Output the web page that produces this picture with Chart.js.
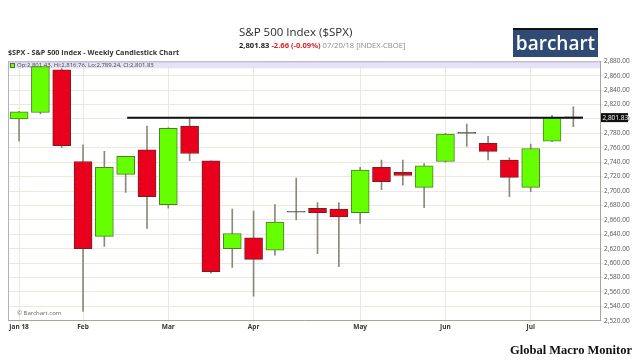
<!DOCTYPE html>
<html>
<head>
<meta charset="utf-8">
<script src="https://cdn.jsdelivr.net/npm/chart.js@4/dist/chart.umd.min.js"></script>
<style>
  body { margin: 0; background: #fff; width: 640px; height: 361px; overflow: hidden; position: relative; font-family: "Open Sans", sans-serif; }
  #c { position: absolute; left: 0; top: 0; }
  .t { position: absolute; white-space: nowrap; line-height: 1; }
</style>
</head>
<body>
<canvas id="c" width="640" height="361"></canvas>

<div class="t" style="left:239px;top:26px;font-size:11.5px;color:#2b2b2b;">S&amp;P 500 Index ($SPX)</div>
<div class="t" style="left:239px;top:42px;font-size:7.6px;">
  <b style="color:#222">2,801.83</b> <b style="color:#d8262b">-2.66 (-0.09%)</b> <span style="color:#8a8a8a">07/20/18 [INDEX-CBOE]</span>
</div>
<div class="t" style="left:8px;top:49px;font-size:7.2px;font-weight:bold;color:#333;">$SPX - S&amp;P 500 Index - Weekly Candlestick Chart</div>
<div class="t" style="left:513px;top:28px;width:85px;height:27px;background:#2f4b73;border-top:2px solid #111;color:#fff;font-size:19px;font-weight:600;line-height:26px;text-align:center;">barchart</div>
<div class="t" style="left:10px;top:62.5px;width:3px;height:3px;background:#66ff00;border:1px solid #4a7a2a;"></div>
<div class="t" style="left:17px;top:62px;font-size:6px;color:#444;">Op:2,801.43, Hi:2,816.76, Lo:2,789.24, Cl:2,801.83</div>
<div class="t" style="left:17px;top:310px;font-size:6px;color:#666;">© Barchart.com</div>
<div class="t" style="left:510px;top:344px;font-size:12.5px;font-weight:bold;color:#111;font-family:'Liberation Serif',serif;">Global Macro Monitor</div>

<script>
// semanas (lunes de cada vela semanal)
const weeks = ['2018-01-15','2018-01-22','2018-01-29','2018-02-05','2018-02-12','2018-02-19','2018-02-26',
  '2018-03-05','2018-03-12','2018-03-19','2018-03-26','2018-04-02','2018-04-09','2018-04-16','2018-04-23',
  '2018-04-30','2018-05-07','2018-05-14','2018-05-21','2018-05-28','2018-06-04','2018-06-11','2018-06-18',
  '2018-06-25','2018-07-02','2018-07-09','2018-07-16'];

const opens  = [2800, 2809, 2868, 2741, 2637, 2723, 2757, 2681, 2790, 2742, 2620, 2635, 2618, 2670.5,
  2676, 2675, 2670, 2733, 2726, 2705, 2741, 2780, 2766, 2743, 2705, 2769, 2801.43];
const highs  = [2810.5, 2873, 2870, 2764, 2755, 2748, 2790, 2788, 2802, 2742, 2675, 2672, 2681, 2718,
  2684, 2684, 2733, 2743, 2743, 2738, 2780, 2793, 2776, 2746, 2765, 2805, 2816.76];
const lows   = [2769, 2807, 2760, 2533, 2623, 2698, 2648, 2676, 2742, 2586, 2594, 2554, 2611, 2660,
  2613, 2595, 2655, 2702, 2708, 2677, 2740, 2762, 2743, 2692, 2699, 2768.5, 2789.24];
const closes = [2810, 2872.5, 2763, 2620, 2733, 2748, 2692, 2787, 2752, 2588, 2641, 2605, 2657, 2670.8,
  2670, 2664, 2729, 2713, 2721.5, 2735, 2779, 2780.3, 2755, 2719, 2759, 2802, 2801.83];

// etiquetas del eje X (índice de la primera vela de cada mes)
const monthTickIdx = [0, 3, 7, 11, 16, 20, 24];
const monthLabels  = ['Jan 18', 'Feb', 'Mar', 'Apr', 'May', 'Jun', 'Jul'];

// eje Y
const yMin = 2520, yMax = 2880, yStep = 20;

// línea de resistencia
const levelValue = 2801.83;
const levelFrom = 5.07, levelTo = 26.45;

const fmt = v => v.toLocaleString('en-US', { minimumFractionDigits: 2, maximumFractionDigits: 2 });

const bodyColor = (o, c) => Math.abs(c - o) < 1 ? '#555555' : (c > o ? '#66ff00' : '#e8001c');
const bodyBorder = (o, c) => Math.abs(c - o) < 1 ? '#555555' : (c > o ? '#4f7d2a' : '#7a1f1f');

const bodies = weeks.map((w, i) => ({ x: i, y: [opens[i], closes[i]] }));
const wicks = weeks.map((w, i) => ({ x: i, y: [lows[i], highs[i]] }));

// banda lavanda arriba del área de trazado
const bandPlugin = {
  id: 'band',
  beforeDatasetsDraw(chart) {
    const { ctx, chartArea: a } = chart;
    ctx.save();
    ctx.fillStyle = '#e6e2f6';
    ctx.fillRect(a.left, a.top, a.right - a.left, 7);
    ctx.strokeStyle = '#b4aec8';
    ctx.lineWidth = 1;
    ctx.beginPath();
    ctx.moveTo(a.left, a.top + 0.5); ctx.lineTo(a.right, a.top + 0.5);
    ctx.moveTo(a.left + 0.5, a.top); ctx.lineTo(a.left + 0.5, a.bottom);
    ctx.stroke();
    ctx.restore();
  }
};

// etiqueta del último precio en el eje
const priceTag = {
  id: 'priceTag',
  afterDraw(chart) {
    const { ctx } = chart;
    const y = chart.scales.y.getPixelForValue(closes[closes.length - 1]);
    ctx.save();
    ctx.fillStyle = '#111';
    ctx.fillRect(601, y - 4.5, 27, 9);
    ctx.fillStyle = '#fff';
    ctx.font = '6.5px "Open Sans"';
    ctx.textBaseline = 'middle';
    ctx.fillText(fmt(closes[closes.length - 1]), 602.5, y + 0.5);
    ctx.restore();
  }
};

new Chart(document.getElementById('c'), {
  type: 'bar',
  data: {
    datasets: [
      {
        type: 'line',
        data: [{ x: levelFrom, y: levelValue }, { x: levelTo, y: levelValue }],
        borderColor: '#111',
        borderWidth: 2,
        pointRadius: 0,
        order: 0
      },
      {
        data: bodies,
        backgroundColor: bodies.map(b => bodyColor(b.y[0], b.y[1])),
        borderColor: bodies.map(b => bodyBorder(b.y[0], b.y[1])),
        borderWidth: 1,
        borderSkipped: false,
        barThickness: 18,
        minBarLength: 1,
        grouped: false,
        order: 1
      },
      {
        data: wicks,
        backgroundColor: '#8c887c',
        borderWidth: 0,
        barThickness: 1,
        grouped: false,
        order: 2
      }
    ]
  },
  options: {
    responsive: false,
    animation: false,
    layout: { padding: { left: 8, right: 0, top: 61.3, bottom: 28.3 } },
    plugins: { legend: { display: false }, tooltip: { enabled: false } },
    scales: {
      x: {
        type: 'linear',
        min: -0.52,
        max: 27.25,
        offset: false,
        afterBuildTicks(scale) { scale.ticks = monthTickIdx.map(v => ({ value: v })); },
        afterFit(scale) { scale.height = 12; },
        ticks: {
          autoSkip: false,
          maxRotation: 0,
          padding: 1,
          color: '#333',
          font: { size: 6.5, weight: 'bold', family: 'Open Sans' },
          callback: v => monthLabels[monthTickIdx.indexOf(v)] ?? ''
        },
        grid: { color: '#ebe8de', tickLength: 2, offset: false },
        border: { color: '#a8a49a' }
      },
      y: {
        position: 'right',
        min: yMin,
        max: yMax,
        afterFit(scale) { scale.width = 40; },
        ticks: {
          stepSize: yStep,
          padding: 1,
          color: '#555',
          font: { size: 6.5, family: 'Open Sans' },
          callback: v => fmt(v)
        },
        grid: { color: '#ebe8de', tickLength: 3 },
        border: { color: '#a8a49a' }
      }
    }
  },
  plugins: [bandPlugin, priceTag]
});
</script>
</body>
</html>
